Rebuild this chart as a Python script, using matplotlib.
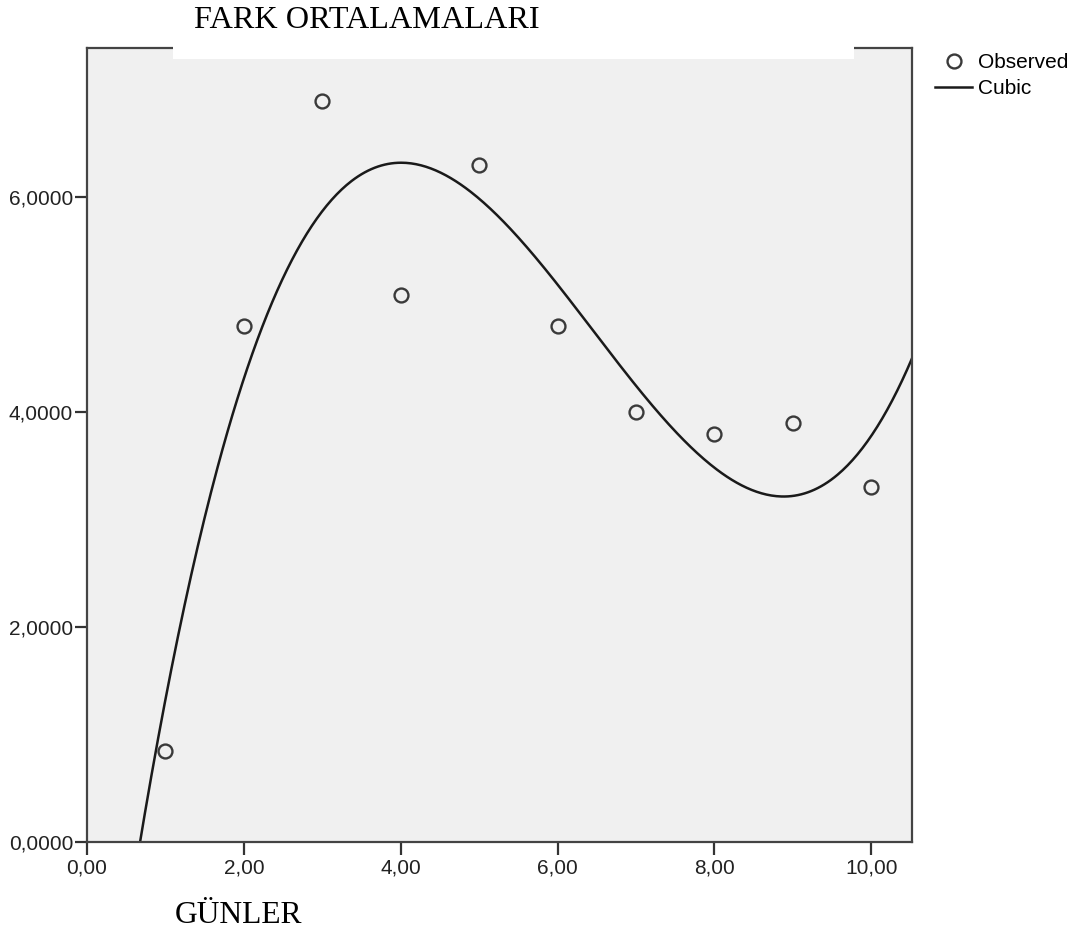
import numpy as np
import matplotlib.pyplot as plt
from matplotlib.patches import Rectangle

# gözlenen değerler
gunler = [1, 2, 3, 4, 5, 6, 7, 8, 9, 10]
fark = [0.85, 4.80, 6.90, 5.09, 6.30, 4.80, 4.00, 3.80, 3.90, 3.30]
x_ticks = [0, 2, 4, 6, 8, 10]
x_labels = ['0,00', '2,00', '4,00', '6,00', '8,00', '10,00']
y_ticks = [0, 2, 4, 6]
y_labels = ['0,0000', '2,0000', '4,0000', '6,0000']

fig = plt.figure(figsize=(10.75, 9.32), dpi=100)
ax = fig.add_axes([87/1075, 1 - 842/932, (912 - 87)/1075, (842 - 48)/932])
ax.set_facecolor('#f0f0f0')

# kübik uyum
coef = np.polyfit(gunler, fark, 3)
xs = np.linspace(0, 10.52, 500)
ax.plot(xs, np.polyval(coef, xs), color='#1a1a1a', lw=1.8, label='Cubic', zorder=2)
ax.plot(gunler, fark, 'o', ms=10, mfc='none', mec='#3a3a3a', mew=1.7, label='Observed', zorder=3)

ax.set_xlim(0, 10.52)
ax.set_ylim(0, 7.39)
ax.set_xticks(x_ticks)
ax.set_xticklabels(x_labels)
ax.set_yticks(y_ticks)
ax.set_yticklabels(y_labels)
ax.tick_params(length=9, width=1.6, color='#333333', labelsize=15, labelcolor='#222222')
ax.tick_params(axis='y', pad=1)
ax.tick_params(axis='x', pad=3)
for lab in ax.get_xticklabels() + ax.get_yticklabels():
    lab.set_family('Liberation Sans')
for s in ax.spines.values():
    s.set_color('#444444')
    s.set_linewidth(1.6)

# başlığın arkasındaki beyaz kutu
fig.patches.append(Rectangle((173/1075, 1 - 59/932), (854 - 173)/1075, 59/932,
                             transform=fig.transFigure, facecolor='white', edgecolor='none', zorder=5))
fig.text(367/1075, 1 - 28/932, 'FARK ORTALAMALARI', ha='center', va='baseline',
         family='Liberation Serif', fontsize=23.2, zorder=6)
fig.text(175/1075, 1 - 923/932, 'GÜNLER', ha='left', va='baseline',
         family='Liberation Serif', fontsize=22.7)

h, l = ax.get_legend_handles_labels()
leg = fig.legend([h[1], h[0]], [l[1], l[0]], loc='upper left', bbox_to_anchor=(935/1075, 1 - 53/932),
                 frameon=False, prop={'family': 'Liberation Sans', 'size': 15},
                 handlelength=1.8, handletextpad=0.25, borderaxespad=0, borderpad=0,
                 labelspacing=0.35)

fig.savefig('out.png', dpi=100)
